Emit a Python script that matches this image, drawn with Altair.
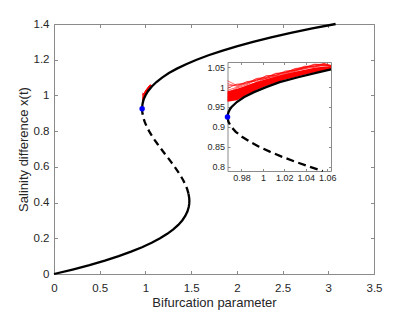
import altair as alt
import pandas as pd

# ---------------- main panel data (bifurcation parameter p, salinity x) ----------------
lower_p = [0, 0.2032, 0.3884, 0.5563, 0.7075, 0.8428, 0.9628, 1.0683, 1.16, 1.2386, 1.3047,
           1.3591, 1.4025, 1.4356, 1.4591, 1.4736, 1.4789, 1.4804, 1.4789, 1.4709]
lower_x = [0, 0.025, 0.05, 0.075, 0.1, 0.125, 0.15, 0.175, 0.2, 0.225, 0.25,
           0.275, 0.3, 0.325, 0.35, 0.375, 0.3925, 0.4085, 0.425, 0.45]
unstable_p = [1.4709, 1.4569, 1.4375, 1.4134, 1.3853, 1.3539, 1.32, 1.2842, 1.2472, 1.2097,
              1.1725, 1.1362, 1.1016, 1.0693, 1.04, 1.0145, 0.9934, 0.9775, 0.9675, 0.9649, 0.964]
unstable_x = [0.45, 0.475, 0.5, 0.525, 0.55, 0.575, 0.6, 0.625, 0.65, 0.675,
              0.7, 0.725, 0.75, 0.775, 0.8, 0.825, 0.85, 0.875, 0.9, 0.9125, 0.925]
upper_p = [0.964, 0.965, 0.9678, 0.9727, 0.9796, 0.9887, 1.0, 1.0298, 1.0697, 1.1204, 1.1825,
           1.2568, 1.3441, 1.4449, 1.56, 1.6901, 1.8359, 1.9982, 2.1775, 2.3747, 2.5903, 2.8252, 3.08]
upper_x = [0.925, 0.9375, 0.95, 0.9625, 0.975, 0.9875, 1.0, 1.025, 1.05, 1.075, 1.1,
           1.125, 1.15, 1.175, 1.2, 1.225, 1.25, 1.275, 1.3, 1.325, 1.35, 1.375, 1.4]
fold_p = [0.964]
fold_x = [0.925]

# ---------------- inset data ----------------
inset_upper_p = [0.967, 0.9672, 0.968, 0.9694, 0.9708, 0.9757, 0.9826, 0.9917, 1.003, 1.0156,
                 1.0328, 1.0514, 1.0635]
inset_upper_x = [0.925, 0.93, 0.9375, 0.945, 0.95, 0.9625, 0.975, 0.9875, 1.0, 1.0125,
                 1.025, 1.0375, 1.0446]
inset_unstable_p = [0.967, 0.9679, 0.9705, 0.9747, 0.9805, 0.9878, 0.9964, 1.0064, 1.0175,
                    1.0298, 1.043, 1.0558]
inset_unstable_x = [0.925, 0.9125, 0.9, 0.8875, 0.875, 0.8625, 0.85, 0.8375, 0.825,
                    0.8125, 0.8, 0.7887]
inset_fold_p = [0.967]
inset_fold_x = [0.925]

# stochastic trajectories (red)
red_p = [0.967, 0.976, 0.985, 0.994, 1.003, 1.012, 1.021, 1.030, 1.039, 1.048, 1.057, 1.0635]
red_low = [0.963, 0.967, 0.981, 0.993, 1.003, 1.011, 1.019, 1.025, 1.031, 1.037, 1.042, 1.046]
red_dense = [0.99, 0.996, 1.004, 1.013, 1.02, 1.027, 1.033, 1.039, 1.044, 1.049, 1.052, 1.051]
red_runs = [
    [1.003, 1.006, 1.011, 1.021, 1.024, 1.034, 1.037, 1.046, 1.049, 1.057, 1.058, 1.054],
    [1.016, 1.004, 1.014, 1.017, 1.028, 1.030, 1.041, 1.042, 1.052, 1.053, 1.060, 1.055],
    [0.997, 1.008, 1.008, 1.022, 1.025, 1.035, 1.036, 1.047, 1.050, 1.058, 1.056, 1.053],
    [1.009, 1.002, 1.013, 1.015, 1.029, 1.029, 1.039, 1.044, 1.053, 1.051, 1.059, 1.054],
    [0.992, 1.000, 1.010, 1.019, 1.022, 1.033, 1.038, 1.043, 1.048, 1.056, 1.057, 1.053],
    [0.985, 0.998, 1.006, 1.018, 1.021, 1.030, 1.036, 1.041, 1.050, 1.052, 1.055, 1.052],
    [0.975, 0.990, 1.003, 1.012, 1.023, 1.028, 1.034, 1.043, 1.046, 1.054, 1.054, 1.052],
    [0.968, 0.985, 0.998, 1.010, 1.018, 1.026, 1.032, 1.040, 1.047, 1.050, 1.056, 1.051],
]

main_xticks = [0, 0.5, 1, 1.5, 2, 2.5, 3, 3.5]
main_yticks = [0, 0.2, 0.4, 0.6, 0.8, 1, 1.2, 1.4]
inset_xticks = [0.98, 1.0, 1.02, 1.04, 1.06]
inset_yticks = [0.8, 0.85, 0.9, 0.95, 1.0, 1.05]

# ---------------- tables ----------------
stable_df = pd.DataFrame({
    "p": lower_p + upper_p,
    "x": lower_x + upper_x,
    "branch": ["lower"] * len(lower_p) + ["upper"] * len(upper_p),
    "i": list(range(len(lower_p))) + list(range(len(upper_p))),
})
unstable_df = pd.DataFrame({"p": unstable_p, "x": unstable_x, "i": range(len(unstable_p))})
fold_df = pd.DataFrame({"p": fold_p, "x": fold_x})
inset_upper_df = pd.DataFrame({"p": inset_upper_p, "x": inset_upper_x, "i": range(len(inset_upper_p))})
inset_unstable_df = pd.DataFrame({"p": inset_unstable_p, "x": inset_unstable_x,
                                  "i": range(len(inset_unstable_p))})
inset_fold_df = pd.DataFrame({"p": inset_fold_p, "x": inset_fold_x})
red_area_df = pd.DataFrame({"p": red_p, "lo": red_low, "hi": red_dense})
rows = []
for k, run in enumerate(red_runs):
    for j, (pp, vv) in enumerate(zip(red_p, run)):
        rows.append({"p": pp, "x": vv, "run": k, "i": j})
red_lines_df = pd.DataFrame(rows)

# ---------------- layout constants ----------------
W, H = 320, 250
IX0, IX1 = 173.5, 277.0      # inset box in plot pixels
IY0, IY1 = 38.0, 147.0
GRAY = "#8a8a8a"
TXT = "#262626"
FONT = "Liberation Sans"
LW = 2.3

MX = alt.Scale(domain=[0, 3.5], nice=False, zero=False)
MY = alt.Scale(domain=[0, 1.4], nice=False, zero=False)
IX = alt.Scale(domain=[0.967, 1.0635], range=[IX0, IX1], nice=False, zero=False)
IY = alt.Scale(domain=[0.7887, 1.0634], range=[IY1, IY0], nice=False, zero=False)


def label_axis(orient, values, title, fs, lp, tp, offset=0):
    kw = dict(orient=orient, values=values, format="~g", labelFont=FONT, labelFontSize=fs,
              labelColor=TXT, labelPadding=lp, labelFlush=False, labelOverlap=False,
              ticks=False, tickSize=0, domain=False, grid=False, offset=offset)
    if title:
        kw.update(title=title, titleFont=FONT, titleFontSize=13, titleColor=TXT,
                  titleFontWeight="normal", titlePadding=tp)
    else:
        kw.update(title=None)
    return alt.Axis(**kw)


def tick_axis(orient, values, offset, size):
    return alt.Axis(orient=orient, values=values, labels=False, title=None, ticks=True,
                    tickSize=size, tickColor=GRAY, tickWidth=1, domain=True,
                    domainColor=GRAY, domainWidth=1, grid=False, offset=offset)


# ---------------- main panel ----------------
m_red_area = alt.Chart(red_area_df).mark_area(color="#ff0000").encode(
    x=alt.X("p:Q", scale=MX, axis=label_axis("bottom", main_xticks, "Bifurcation parameter", 11.5, 8, 3)),
    y=alt.Y("lo:Q", scale=MY, axis=label_axis("left", main_yticks, "Salinity difference x(t)", 11.5, 5, 3)),
    y2="hi:Q",
)
m_red_lines = alt.Chart(red_lines_df).mark_line(color="#ff0000", strokeWidth=0.6).encode(
    x=alt.X("p:Q", scale=MX, axis=tick_axis("top", main_xticks, -H, 3.5)),
    y=alt.Y("x:Q", scale=MY, axis=tick_axis("right", main_yticks, -W, 3.5)),
    detail="run:N", order="i:Q",
)
m_stable = alt.Chart(stable_df).mark_line(color="black", strokeWidth=LW).encode(
    x=alt.X("p:Q", scale=MX, axis=tick_axis("bottom", main_xticks, -H, 3.5)),
    y=alt.Y("x:Q", scale=MY, axis=tick_axis("left", main_yticks, -W, 3.5)),
    detail="branch:N", order="i:Q",
)
m_unstable = alt.Chart(unstable_df).mark_line(color="black", strokeWidth=LW, strokeDash=[7, 4.5]).encode(
    x=alt.X("p:Q", scale=MX, axis=None),
    y=alt.Y("x:Q", scale=MY, axis=None),
    order="i:Q",
)
m_fold = alt.Chart(fold_df).mark_circle(color="#0000ff", size=30, opacity=1).encode(
    x=alt.X("p:Q", scale=MX, axis=None),
    y=alt.Y("x:Q", scale=MY, axis=None),
)

# ---------------- inset panel ----------------
i_red_area = alt.Chart(red_area_df).mark_area(color="#ff0000").encode(
    x=alt.X("p:Q", scale=IX, axis=label_axis("bottom", inset_xticks, None, 9, 2, 0, offset=-(H - IY1))),
    y=alt.Y("lo:Q", scale=IY, axis=label_axis("left", inset_yticks, None, 9, 3, 0, offset=-IX0)),
    y2="hi:Q",
)
i_red_lines = alt.Chart(red_lines_df).mark_line(color="#ff0000", strokeWidth=0.6).encode(
    x=alt.X("p:Q", scale=IX, axis=tick_axis("top", inset_xticks, -IY1, 2.5)),
    y=alt.Y("x:Q", scale=IY, axis=tick_axis("right", inset_yticks, IX0 - W, 2.5)),
    detail="run:N", order="i:Q",
)
i_stable = alt.Chart(inset_upper_df).mark_line(color="black", strokeWidth=LW).encode(
    x=alt.X("p:Q", scale=IX, axis=tick_axis("bottom", inset_xticks, -(H - IY0), 2.5)),
    y=alt.Y("x:Q", scale=IY, axis=tick_axis("left", inset_yticks, -IX1, 2.5)),
    order="i:Q",
)
i_unstable = alt.Chart(inset_unstable_df).mark_line(color="black", strokeWidth=LW, strokeDash=[8, 4.5]).encode(
    x=alt.X("p:Q", scale=IX, axis=None),
    y=alt.Y("x:Q", scale=IY, axis=None),
    order="i:Q",
)
i_fold = alt.Chart(inset_fold_df).mark_circle(color="#0000ff", size=30, opacity=1).encode(
    x=alt.X("p:Q", scale=IX, axis=None),
    y=alt.Y("x:Q", scale=IY, axis=None),
)

chart = alt.layer(
    m_red_area, m_red_lines, m_stable, m_unstable, m_fold,
    i_red_area, i_red_lines, i_stable, i_unstable, i_fold,
).resolve_scale(
    x="independent", y="independent"
).properties(
    width=W, height=H,
    autosize=alt.AutoSizeParams(type="none"),
    padding={"left": 46, "top": 16, "right": 33, "bottom": 38},
    background="white",
).configure_view(stroke=None)

chart.save("out.html", embed_options={"renderer": "svg", "actions": False})
